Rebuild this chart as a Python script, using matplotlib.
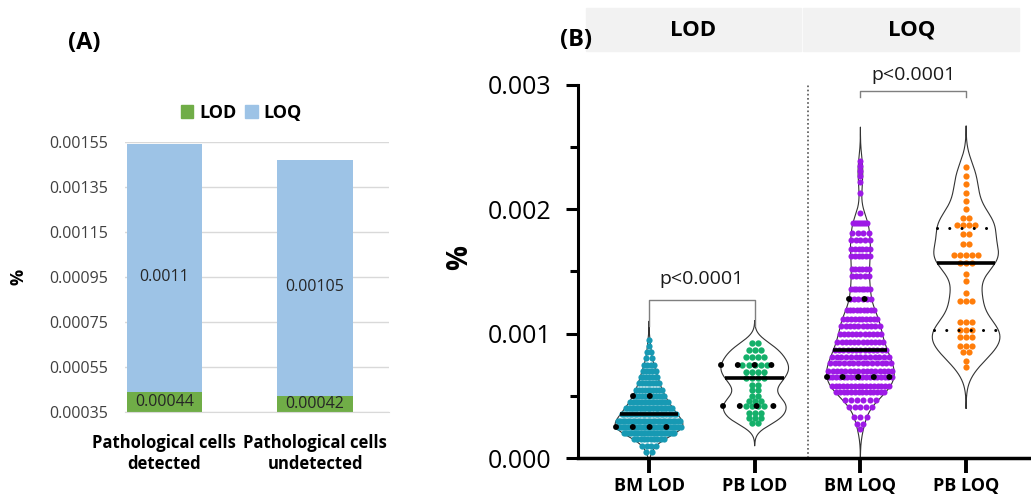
import numpy as np
import matplotlib.pyplot as plt
from matplotlib.patches import Rectangle, Patch

plt.rcParams['font.family'] = ['Open Sans', 'DejaVu Sans']

# ---- (A) stacked bars
groups_a = ['Pathological cells\ndetected', 'Pathological cells\nundetected']
lod_a = [0.00044, 0.00042]
loq_a = [0.0011, 0.00105]
yticks_a = [0.00035, 0.00055, 0.00075, 0.00095, 0.00115, 0.00135, 0.00155]

# ---- (B) violins, values in 1e-3 %, level -> number of dots
cats_b = ['BM LOD', 'PB LOD', 'BM LOQ', 'PB LOQ']

bm_lod_lv = [0.05, 0.10, 0.15, 0.20, 0.25, 0.30, 0.35, 0.40, 0.45, 0.50,
             0.55, 0.60, 0.65, 0.70, 0.75, 0.80, 0.85, 0.90, 0.95]
bm_lod_n = [2, 4, 10, 22, 30, 26, 22, 18, 15, 12, 10, 8, 7, 5, 4, 2, 2, 1, 1]

pb_lod_lv = [0.28, 0.32, 0.36, 0.415, 0.455, 0.495, 0.55, 0.59, 0.64,
             0.695, 0.75, 0.815, 0.87, 0.925]
pb_lod_n = [2, 3, 3, 4, 3, 2, 2, 2, 4, 4, 5, 4, 3, 2]

bm_loq_lv = [0.23, 0.27, 0.33, 0.41, 0.47, 0.53, 0.58, 0.65, 0.70, 0.76,
             0.81, 0.87, 0.93, 1.00, 1.06, 1.12, 1.19, 1.28, 1.36, 1.46,
             1.52, 1.62, 1.68, 1.75, 1.81, 1.89, 1.97, 2.13, 2.22, 2.27,
             2.31, 2.35, 2.39]
bm_loq_n = [1, 2, 3, 5, 6, 14, 16, 18, 16, 14, 13, 13, 12, 11, 10, 10, 9,
            6, 8, 5, 6, 6, 6, 5, 4, 8, 1, 1, 1, 1, 1, 1, 1]

pb_loq_lv = [0.73, 0.78, 0.85, 0.90, 0.97, 1.03, 1.09, 1.26, 1.33, 1.42,
             1.48, 1.57, 1.63, 1.72, 1.80, 1.87, 1.93, 2.00, 2.07, 2.13,
             2.20, 2.27, 2.34]
pb_loq_n = [1, 1, 2, 3, 3, 3, 3, 3, 1, 1, 1, 3, 5, 2, 2, 4, 2, 1, 1, 1,
            1, 1, 1]

levels_b = [bm_lod_lv, pb_lod_lv, bm_loq_lv, pb_loq_lv]
counts_b = [bm_lod_n, pb_lod_n, bm_loq_n, pb_loq_n]
colors_b = ['#1799b3', '#14b06a', '#9d1ae6', '#ff7d0a']
bw_b = [0.05, 0.06, 0.09, 0.11]
dot_s = [20, 21, 19, 20]
quart_lw = [4.3, 4.3, 4.3, 2.2]
quart_gap = [2.8, 2.8, 2.6, 4.0]

fig = plt.figure(figsize=(10.31, 5.0), dpi=100)

# ================= panel A
axa = fig.add_axes([125 / 1031, 1 - 412 / 500, 264 / 1031, 270 / 500])
xa = np.arange(len(groups_a))
axa.bar(xa, lod_a, width=0.5, color='#70ad47', zorder=2)
axa.bar(xa, loq_a, width=0.5, bottom=lod_a, color='#9dc3e6', zorder=2)
ymin_a, ymax_a = yticks_a[0], yticks_a[-1]
for i in range(len(xa)):
    axa.text(xa[i], (ymin_a + lod_a[i]) / 2, f'{lod_a[i]:g}', ha='center',
             va='center', fontsize=11.5, color='#262626', zorder=3)
    axa.text(xa[i], lod_a[i] + loq_a[i] / 2 - 0.00004, f'{loq_a[i]:g}',
             ha='center', va='center', fontsize=11.5, color='#262626',
             zorder=3)
axa.set_ylim(ymin_a, ymax_a)
axa.set_xlim(-0.26, 1.49)
axa.set_yticks(yticks_a)
axa.set_yticklabels([f'{t:.5f}' for t in yticks_a])
axa.yaxis.grid(True, color='#d9d9d9', lw=1)
axa.set_axisbelow(True)
for s in ['top', 'right', 'left']:
    axa.spines[s].set_visible(False)
axa.spines['bottom'].set_color('#d9d9d9')
axa.tick_params(axis='y', length=0, labelsize=11.5, labelcolor='#404040',
                pad=12)
axa.tick_params(axis='x', length=0, labelsize=12, pad=16)
axa.set_xticks(xa)
axa.set_xticklabels(groups_a, fontweight='bold', linespacing=1.2)
axa.legend(handles=[Patch(color='#70ad47', label='LOD'),
                    Patch(color='#9dc3e6', label='LOQ')],
           loc='center', bbox_to_anchor=(0.44, 1.107), ncol=2, frameon=False,
           handlelength=0.7, handleheight=0.7, handletextpad=0.3,
           columnspacing=0.5, prop={'weight': 'bold', 'size': 13})
fig.text(18 / 1031, 1 - 277 / 500, '%', rotation=90, ha='center', va='center',
         fontsize=13, fontweight='bold')
fig.text(84 / 1031, 1 - 43 / 500, '(A)', ha='center', va='center',
         fontsize=17, fontweight='bold')

# ================= panel B
axb = fig.add_axes([578 / 1031, 1 - 458 / 500, 453 / 1031, 408 / 500])
half_max = 0.32
dot_d = 0.058
for i, (lv, n) in enumerate(zip(levels_b, counts_b)):
    lv = np.asarray(lv)
    n = np.asarray(n)
    vals = np.repeat(lv, n)
    h = bw_b[i]
    grid = np.linspace(max(vals.min() - 3 * h, 0), vals.max() + 3 * h, 400)
    dens = np.exp(-0.5 * ((grid[:, None] - vals[None, :]) / h) ** 2).sum(1)
    w = dens / dens.max() * half_max
    gs = grid * 1e-3
    axb.fill_betweenx(gs, i - w, i + w, facecolor='white', edgecolor='none',
                      zorder=1)
    axb.plot(np.r_[i - w, (i + w)[::-1], i - w[0]], np.r_[gs, gs[::-1], gs[0]],
             color='#333333', lw=0.8, zorder=2)
    xs, ys = [], []
    for v, k in zip(lv, n):
        half = np.interp(v, grid, w) * 0.95
        span = min((k - 1) * dot_d / 2, half)
        off = np.linspace(-span, span, k) if k > 1 else np.array([0.0])
        xs.extend(i + off)
        ys.extend([v * 1e-3] * k)
    axb.scatter(xs, ys, s=dot_s[i], color=colors_b[i], linewidths=0, zorder=3)
    q1, med, q3 = np.percentile(vals, [25, 50, 75])
    wm = np.interp(med, grid, w)
    axb.plot([i - wm, i + wm], [med * 1e-3] * 2, color='black', lw=2.6,
             solid_capstyle='butt', zorder=4)
    for q in (q1, q3):
        wq = np.interp(q, grid, w)
        axb.plot([i - wq, i + wq], [q * 1e-3] * 2, color='black',
                 lw=quart_lw[i], linestyle=(0, (0.01, quart_gap[i])),
                 dash_capstyle='round', zorder=4)

# divider and brackets
axb.plot([1.5, 1.5], [0, 0.003], color='#555555', lw=1.2, ls=(0, (1, 1.5)),
         zorder=1)
brk = [(0, 1, 0.00106, 0.00127, 0.00144), (2, 3, 0.00290, 0.00295, 0.00308)]
for x0, x1, yl, yt, ytxt in brk:
    axb.plot([x0, x0, x1, x1], [yl, yt, yt, yl], color='#7f7f7f', lw=1,
             zorder=2)
    axb.text((x0 + x1) / 2, ytxt, 'p<0.0001', ha='center', va='center',
             fontsize=14, color='#1a1a1a')

axb.set_xlim(-0.672, 3.614)
axb.set_ylim(0, 0.00328)
axb.set_xticks(range(len(cats_b)))
axb.set_xticklabels(cats_b, fontweight='bold', fontsize=13)
axb.set_yticks([0, 0.001, 0.002, 0.003])
axb.set_yticklabels(['0.000', '0.001', '0.002', '0.003'])
axb.set_yticks([0.0005, 0.0015, 0.0025], minor=True)
axb.spines['top'].set_visible(False)
axb.spines['right'].set_visible(False)
axb.spines['left'].set_bounds(0, 0.003)
axb.spines['left'].set_linewidth(2.2)
axb.spines['bottom'].set_linewidth(2.5)
axb.tick_params(axis='y', which='major', length=9, width=2.2, labelsize=18,
                pad=10)
axb.tick_params(axis='y', which='minor', length=5.5, width=2.2)
axb.tick_params(axis='x', length=11, width=2.8, pad=3)
axb.patch.set_alpha(0)

# header strips
fig.patches.append(Rectangle((586 / 1031, 1 - 51 / 500), 215 / 1031, 43 / 500,
                             transform=fig.transFigure, color='#f2f2f2',
                             zorder=0))
fig.patches.append(Rectangle((803 / 1031, 1 - 51 / 500), 216 / 1031, 43 / 500,
                             transform=fig.transFigure, color='#f2f2f2',
                             zorder=0))
fig.text(693 / 1031, 1 - 30 / 500, 'LOD', ha='center', va='center',
         fontsize=16, fontweight='bold')
fig.text(912 / 1031, 1 - 30 / 500, 'LOQ', ha='center', va='center',
         fontsize=16, fontweight='bold')
fig.text(576 / 1031, 1 - 40 / 500, '(B)', ha='center', va='center',
         fontsize=17, fontweight='bold')
fig.text(460 / 1031, 1 - 257 / 500, '%', rotation=90, ha='center',
         va='center', fontsize=20, fontweight='bold')

fig.savefig('out.png', dpi=100)
